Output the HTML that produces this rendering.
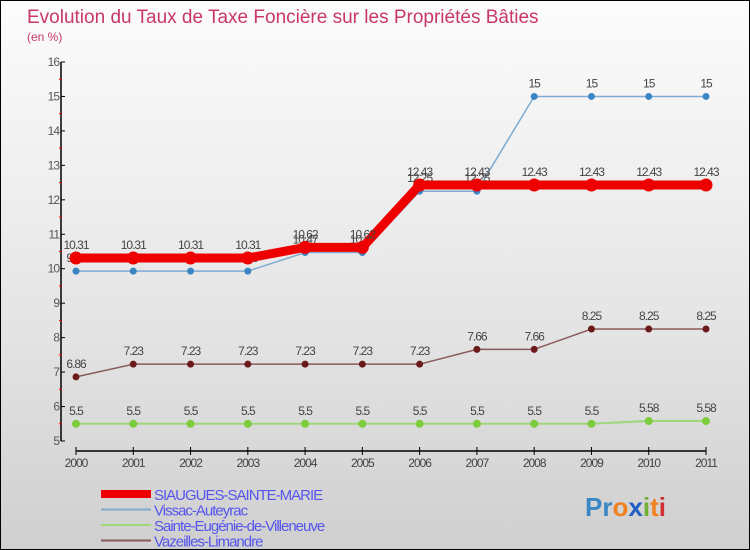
<!DOCTYPE html>
<html><head><meta charset="utf-8"><style>
body{margin:0}
#wrap{width:750px;height:550px;position:relative;box-sizing:border-box;border:1px solid #000;background:linear-gradient(#fcfcfc,#e4e4e4 60%,#cfcfcf);font-family:"Liberation Sans",sans-serif;overflow:hidden}
svg{position:absolute;left:0;top:0}
</style></head><body>
<div id="wrap">
<svg id="chart" width="750" height="550">
<text x="26" y="22" font-size="19" fill="#c8366a">Evolution du Taux de Taxe Foncière sur les Propriétés Bâties</text>
<text x="26" y="40" font-size="12" fill="#c8366a">(en %)</text>
</svg>
</div>
<script>
const years=["2000","2001","2002","2003","2004","2005","2006","2007","2008","2009","2010","2011"];
const yTicks=[5,6,7,8,9,10,11,12,13,14,15,16];
const siaugues=[10.31,10.31,10.31,10.31,10.62,10.62,12.43,12.43,12.43,12.43,12.43,12.43];
const vissac=[9.93,9.93,9.93,9.93,10.47,10.47,12.25,12.25,15,15,15,15];
const sainteEugenie=[5.5,5.5,5.5,5.5,5.5,5.5,5.5,5.5,5.5,5.5,5.58,5.58];
const vazeilles=[6.86,7.23,7.23,7.23,7.23,7.23,7.23,7.66,7.66,8.25,8.25,8.25];
const seriesNames=["SIAUGUES-SAINTE-MARIE","Vissac-Auteyrac","Sainte-Eugénie-de-Villeneuve","Vazeilles-Limandre"];

const svg=document.getElementById('chart');
const NS='http://www.w3.org/2000/svg';
function el(t,a,p){const e=document.createElementNS(NS,t);for(const k in a)e.setAttribute(k,a[k]);(p||svg).appendChild(e);return e;}
const xS=i=>75+i*(630/(years.length-1));
const yS=v=>440-(v-5)*(379/11);

let ax=el('line',{x1:60,y1:61,x2:60,y2:440,stroke:'#000','stroke-width':1.5});


yTicks.forEach(v=>{
  let t=el('line',{x1:60,y1:yS(v),x2:64,y2:yS(v),stroke:'#000'});
  
  
  if(v<16){let m=el('line',{x1:58,y1:yS(v+0.5),x2:61,y2:yS(v+0.5),stroke:'#e00'});
  
  }
  let l=el('text',{x:58,y:yS(v)+4,'font-size':12,fill:'#555','text-anchor':'end','letter-spacing':'-1'});
  l.textContent=v;
  
  
});
let xa=el('line',{x1:75,y1:450,x2:705,y2:450,stroke:'#000','stroke-width':1.5});


years.forEach((y,i)=>{
  let t=el('line',{x1:xS(i),y1:446,x2:xS(i),y2:454,stroke:'#000'});
  
  
  let l=el('text',{x:xS(i),y:466,'font-size':12,fill:'#444','text-anchor':'middle','letter-spacing':'-1'});
  l.textContent=y;
  
  
});

function series(data,color,width,dot,dotColor,name){
  const pts=data.map((v,i)=>xS(i)+','+yS(v)).join(' ');
  let pl=el('polyline',{points:pts,fill:'none',stroke:color,'stroke-width':width,'stroke-linejoin':'round'});
  
  
  data.forEach((v,i)=>{
    let c=el('circle',{cx:xS(i),cy:yS(v),r:dot,fill:dotColor});
    
    
    let l=el('text',{x:xS(i),y:yS(v)-9,'font-size':12,fill:'#444','text-anchor':'middle','letter-spacing':'-1'});
    l.textContent=v;
    
    
  });
}
series(sainteEugenie,'#9ed67a',2,4,'#7ccc3c','sainte-eugenie');
series(vazeilles,'#8a5a5a',1.5,3.5,'#6a1a1a','vazeilles');
series(vissac,'#7eaad2',1.5,3.5,'#3a86c4','vissac');
series(siaugues,'#ee0000',9,6.5,'#ee0000','siaugues');

const legColors=['#ee0000','#7eaad2','#9ed67a','#8a5a5a'];
const legW=[8,2,2,2];
seriesNames.forEach((n,i)=>{
  const y=493+i*15.5;
  let r=el('line',{x1:100,y1:y,x2:150,y2:y,stroke:legColors[i],'stroke-width':legW[i]});
  
  
  let t=el('text',{x:153,y:y+6,'font-size':15,fill:'#5555ee','letter-spacing':'-1'});
  t.textContent=n;
  
  
});
const logo=el('text',{x:584,y:515,'font-size':26,'font-weight':'bold'});


[['Pr','#3a86c4'],['o','#f08020'],['x','#2060c0'],['i','#70b030'],['t','#f08020'],['i','#d03030']].forEach(([s,c])=>{const ts=el('tspan',{fill:c},logo);ts.textContent=s;});
</script>
</body></html>
